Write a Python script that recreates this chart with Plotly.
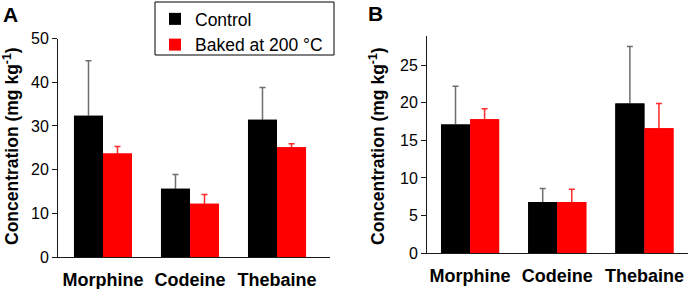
import plotly.graph_objects as go

categories = ["Morphine", "Codeine", "Thebaine"]

a_control = [32.3, 15.6, 31.4]
a_control_err = [12.6, 3.3, 7.4]
a_baked = [23.7, 12.2, 25.1]
a_baked_err = [1.6, 2.1, 0.8]

b_control = [17.1, 6.8, 19.9]
b_control_err = [5.1, 1.8, 7.6]
b_baked = [17.8, 6.8, 16.6]
b_baked_err = [1.4, 1.7, 3.3]

series_names = ["Control", "Baked at 200 °C"]
colors = ["#000000", "#ff0000"]
err_colors = ["#6e6e6e", "#ff2a2a"]

FONT = "Liberation Sans, Arial, sans-serif"
AXC = "#1a1a1a"

fig = go.Figure()

def add_bars(vals, errs, idx, xa, ya, show, with_err):
    kw = {}
    if with_err:
        kw["error_y"] = dict(type="data", array=errs, color=err_colors[idx],
                             thickness=1.5, width=3)
    fig.add_trace(go.Bar(
        x=categories, y=vals, name=series_names[idx],
        marker=dict(color=colors[idx], line=dict(width=0)),
        offsetgroup=str(idx),
        xaxis=xa, yaxis=ya, showlegend=show, legendgroup=series_names[idx],
        hoverinfo="skip" if not with_err else None,
        **kw,
    ))

# bars with error bars
add_bars(a_control, a_control_err, 0, "x", "y", True, True)
add_bars(a_baked, a_baked_err, 1, "x", "y", True, True)
add_bars(b_control, b_control_err, 0, "x2", "y2", False, True)
add_bars(b_baked, b_baked_err, 1, "x2", "y2", False, True)
# same bars drawn again on top to hide the lower half of each error bar
add_bars(a_control, a_control_err, 0, "x", "y", False, False)
add_bars(a_baked, a_baked_err, 1, "x", "y", False, False)
add_bars(b_control, b_control_err, 0, "x2", "y2", False, False)
add_bars(b_baked, b_baked_err, 1, "x2", "y2", False, False)

W, H = 689, 289

def px(v):
    return v / W

def py(v):
    return (H - v) / H

xcommon = dict(showline=True, linecolor=AXC, linewidth=1, ticks="",
               showgrid=False, zeroline=False, automargin=False,
               ticklabelstandoff=6,
               tickfont=dict(family=FONT, size=18, color="#000", weight="bold"))
ycommon = dict(showline=True, linecolor=AXC, linewidth=1, ticks="outside",
               ticklen=5, tickcolor=AXC, tickwidth=1, showgrid=False,
               zeroline=False, automargin=False,
               tickfont=dict(family=FONT, size=16, color="#000"))

fig.update_layout(
    width=W, height=H,
    margin=dict(l=0, r=0, t=0, b=0, pad=0, autoexpand=False),
    paper_bgcolor="white", plot_bgcolor="white",
    barmode="group", bargap=0.333, bargroupgap=0,
    font=dict(family=FONT, color="#000"),
    xaxis=dict(domain=[px(58), px(330)], range=[-0.517, 2.609], anchor="y", **xcommon),
    yaxis=dict(domain=[py(257), py(38.5)], range=[0, 50], dtick=10, anchor="x", **ycommon),
    xaxis2=dict(domain=[px(427), px(688)], range=[-0.494, 2.50], anchor="y2", **xcommon),
    yaxis2=dict(domain=[py(253), py(36)], range=[0, 28.9], dtick=5, anchor="x2", **ycommon),
    legend=dict(x=px(155), y=py(1), xanchor="left", yanchor="top",
                borderwidth=0, bgcolor="rgba(0,0,0,0)",
                font=dict(family=FONT, size=17.5, color="#000"),
                tracegroupgap=0),
    showlegend=True,
)

# legend frame
fig.add_shape(type="rect", xref="paper", yref="paper",
              x0=px(155), y0=py(55), x1=px(334), y1=py(2),
              line=dict(color="#000", width=1))

title_text = "Concentration (mg kg<sup>-1</sup>)"
fig.add_annotation(text=title_text, x=px(11), y=py(146), xref="paper", yref="paper",
                   textangle=-90, showarrow=False, xanchor="center", yanchor="middle",
                   font=dict(family=FONT, size=17.5, weight="bold", color="#000"))
fig.add_annotation(text=title_text, x=px(377), y=py(146), xref="paper", yref="paper",
                   textangle=-90, showarrow=False, xanchor="center", yanchor="middle",
                   font=dict(family=FONT, size=17.5, weight="bold", color="#000"))
fig.add_annotation(text="A", x=px(1), y=py(1), xref="paper", yref="paper",
                   showarrow=False, xanchor="left", yanchor="top",
                   font=dict(family=FONT, size=21, weight="bold", color="#000"))
fig.add_annotation(text="B", x=px(366), y=py(0), xref="paper", yref="paper",
                   showarrow=False, xanchor="left", yanchor="top",
                   font=dict(family=FONT, size=21, weight="bold", color="#000"))

fig.write_html("out.html",
               config={"displayModeBar": False},
               post_script="document.body.style.margin='0';document.body.style.padding='0';")
